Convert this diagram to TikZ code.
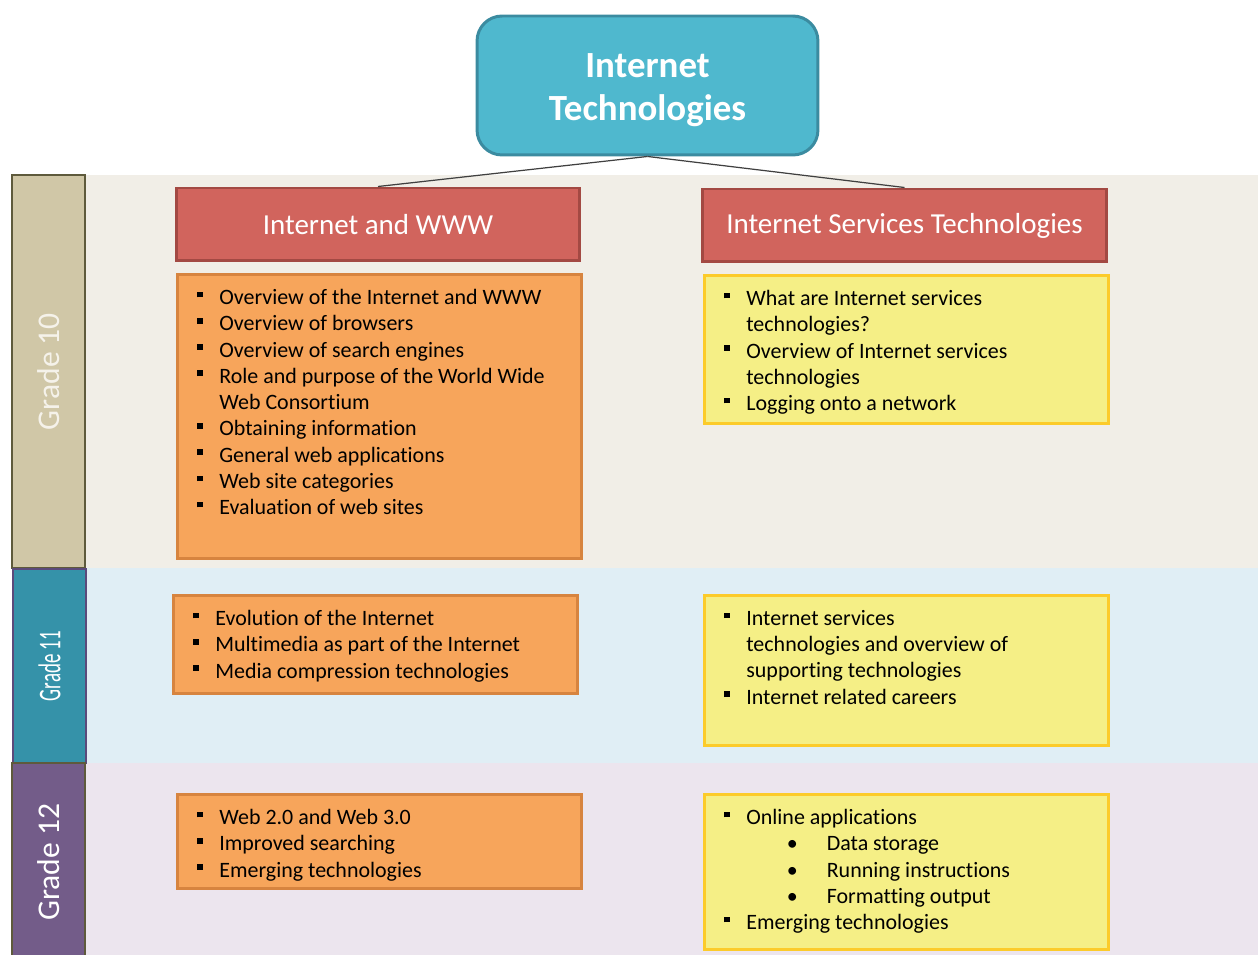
\documentclass[tikz,border=0pt]{standalone}
\usepackage{fontspec}
\setmainfont[Ligatures=NoCommon]{Carlito}
\usepackage{tikz}

\definecolor{titlefill}{HTML}{4FB8CE}
\definecolor{titleline}{HTML}{3B8BA0}
\definecolor{hdrfill}{HTML}{D1645D}
\definecolor{hdrline}{HTML}{A34943}
\definecolor{orgfill}{HTML}{F7A55B}
\definecolor{orgline}{HTML}{D7843F}
\definecolor{ylwfill}{HTML}{F5EF86}
\definecolor{ylwline}{HTML}{FCCB2A}
\definecolor{band10}{HTML}{F1EEE7}
\definecolor{band11}{HTML}{E0EEF5}
\definecolor{band12}{HTML}{ECE5EE}
\definecolor{g10fill}{HTML}{D0C7A7}
\definecolor{g10line}{HTML}{5E5A3C}
\definecolor{g10text}{HTML}{F5F2EA}
\definecolor{g11fill}{HTML}{3592A9}
\definecolor{g11line}{HTML}{5B4A7B}
\definecolor{g12fill}{HTML}{735C89}
\definecolor{linkgray}{HTML}{404040}

\newcommand{\itm}{\makebox[0.44cm][l]{\rule[0.33em]{0.26em}{0.26em}}}
\newcommand{\cnt}{\hspace*{0.44cm}}
\newcommand{\subitm}{\hspace*{1.25cm}\makebox[0.8cm][l]{\textbullet}}

\begin{document}
\begin{tikzpicture}[x=0.02cm, y=-0.02cm,
  topic/.style={draw=hdrline, fill=hdrfill, line width=1.7pt, minimum width=8.08cm,
    minimum height=1.46cm, text=white, font=\fontsize{16.5}{20}\selectfont},
  orangebox/.style={draw=orgline, fill=orgfill, line width=1.6pt, anchor=north west,
    minimum width=8.08cm},
  yellowbox/.style={draw=ylwline, fill=ylwfill, line width=1.6pt, anchor=north west,
    minimum width=8.08cm},
  items/.style={anchor=north west, align=left, inner sep=0pt,
    font=\fontsize{12.5}{14.95}\selectfont},
  grade/.style={rotate=90, minimum height=1.46cm, line width=1.6pt, text=white,
    font=\fontsize{18}{20}\selectfont},
  link/.style={draw=linkgray, line width=0.7pt}]

\useasboundingbox (0,0) rectangle (1258,955);
\clip (0,0) rectangle (1258,955);

% grade bands
\fill[band10] (85,175) rectangle (1258,568);
\fill[band11] (85,568) rectangle (1258,763);
\fill[band12] (85,763) rectangle (1258,955);

\node[grade, draw=g10line, fill=g10fill, minimum width=7.86cm, text=g10text] (g10) at (48.5,371.5) {Grade 10};
\node[grade, draw=g11line, fill=g11fill, minimum width=3.88cm] (g11) at (49.5,666) {\scalebox{0.6}[1]{Grade 11}};
\node[grade, draw=g10line, fill=g12fill, minimum width=3.96cm] (g12) at (48.5,862) {Grade 12};

% top of the tree
\node[draw=titleline, fill=titlefill, line width=1.7pt, rounded corners=0.5cm,
  minimum width=6.82cm, minimum height=2.78cm] (title) at (647.5,85.5) {};
\node[align=center, text=white, font=\bfseries\fontsize{21}{24.6}\selectfont]
  (titletxt) at (647.5,90) {Internet\\Technologies};

\node[topic] (hdrA) at (378,224.5) {Internet and WWW};
\node[topic] (hdrB) at (904.5,225.5) {Internet Services Technologies};

\draw[link] (title.south) -- (hdrA.north);
\draw[link] (title.south) -- (hdrB.north);

% grade 10
\node[orangebox, minimum height=5.68cm] (boxA10) at (176,273) {};
\node[items] (txtA10) at ([shift={(21,16)}]boxA10.north west) {%
\itm Overview of the Internet and WWW\\
\itm Overview of browsers\\
\itm Overview of search engines\\
\itm Role and purpose of the World Wide\\
\cnt Web Consortium\\
\itm Obtaining information\\
\itm General web applications\\
\itm Web site categories\\
\itm Evaluation of web sites};

\node[yellowbox, minimum height=2.96cm] (boxB10) at (703,274) {};
\node[items] (txtB10) at ([shift={(21,16)}]boxB10.north west) {%
\itm What are Internet services\\
\cnt technologies?\\
\itm Overview of Internet services\\
\cnt technologies\\
\itm Logging onto a network};

% grade 11
\node[orangebox, minimum height=1.96cm] (boxA11) at (172,594) {};
\node[items] (txtA11) at ([shift={(21,16)}]boxA11.north west) {%
\itm Evolution of the Internet\\
\itm Multimedia as part of the Internet\\
\itm Media compression technologies};

\node[yellowbox, minimum height=3.0cm] (boxB11) at (703,594) {};
\node[items] (txtB11) at ([shift={(21,16)}]boxB11.north west) {%
\itm Internet services\\
\cnt technologies and overview of\\
\cnt supporting technologies\\
\itm Internet related careers};

% grade 12
\node[orangebox, minimum height=1.88cm] (boxA12) at (176,793) {};
\node[items] (txtA12) at ([shift={(21,16)}]boxA12.north west) {%
\itm Web 2.0 and Web 3.0\\
\itm Improved searching\\
\itm Emerging technologies};

\node[yellowbox, minimum height=3.1cm] (boxB12) at (703,793) {};
\node[items] (txtB12) at ([shift={(21,16)}]boxB12.north west) {%
\itm Online applications\\
\subitm Data storage\\
\subitm Running instructions\\
\subitm Formatting output\\
\itm Emerging technologies};
\end{tikzpicture}
\end{document}
